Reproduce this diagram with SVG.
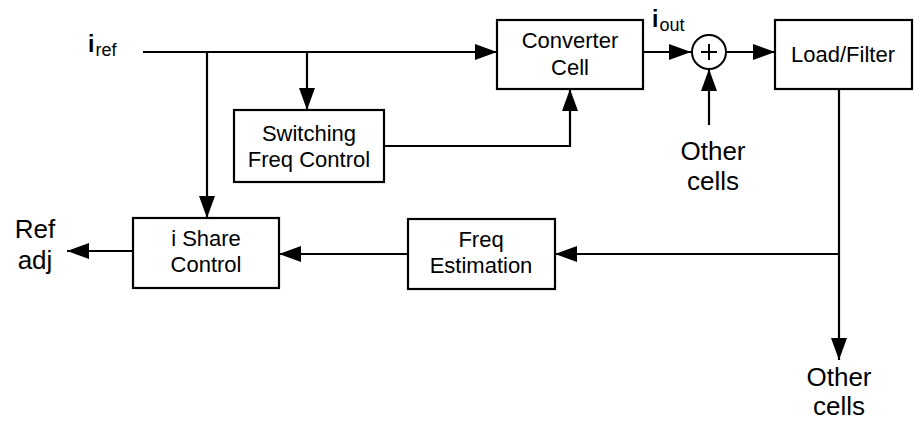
<svg xmlns="http://www.w3.org/2000/svg" width="914" height="421" viewBox="0 0 914 421">
  <style>
    .box { fill: #fff; stroke: #000; stroke-width: 2.2; }
    .wire { fill: none; stroke: #000; stroke-width: 2.2; marker-end: url(#arrow); }
    .lbl { font-family: "Liberation Sans", Arial, sans-serif; font-size: 22px; fill: #000; text-anchor: middle; }
    .big { font-family: "Liberation Sans", Arial, sans-serif; font-size: 26px; fill: #000; text-anchor: middle; }
    .sym { font-family: "Liberation Sans", Arial, sans-serif; fill: #000; }
  </style>
  <defs>
    <marker id="arrow" markerUnits="userSpaceOnUse" markerWidth="24" markerHeight="18" viewBox="0 0 24 18" refX="22" refY="9" orient="auto">
      <path d="M0,1 L22,9 L0,17 Z" fill="#000"/>
    </marker>
  </defs>

  <rect width="914" height="421" fill="#fff"/>

  <!-- signal wires -->
  <g id="connectors">
    <path class="wire" d="M143,52 H497"/>
    <path class="wire" d="M207,52 V218"/>
    <path class="wire" d="M307,52 V110"/>
    <path class="wire" d="M384,146 H570 V89"/>
    <path class="wire" d="M643,52 H691"/>
    <path class="wire" d="M727,52 H775"/>
    <path class="wire" d="M709,125 V69"/>
    <path class="wire" d="M839,89 V360"/>
    <path class="wire" d="M839,254 H555"/>
    <path class="wire" d="M408,254 H279"/>
    <path class="wire" d="M133,251 H67"/>
  </g>

  <g id="converter-cell">
    <rect class="box" x="497" y="20" width="146" height="69"/>
    <text class="lbl" x="570" y="48">Converter</text>
    <text class="lbl" x="570" y="75">Cell</text>
  </g>

  <g id="switching-freq-control">
    <rect class="box" x="234" y="110" width="150" height="72"/>
    <text class="lbl" x="309" y="141">Switching</text>
    <text class="lbl" x="309" y="167">Freq Control</text>
  </g>

  <g id="summing-junction">
    <circle cx="709" cy="52" r="17" fill="#fff" stroke="#000" stroke-width="2"/>
    <path d="M709,44 V60 M701,52 H717" stroke="#000" stroke-width="2"/>
  </g>

  <g id="load-filter">
    <rect class="box" x="775" y="20" width="137" height="69"/>
    <text class="lbl" x="843" y="62">Load/Filter</text>
  </g>

  <g id="freq-estimation">
    <rect class="box" x="408" y="219" width="147" height="70"/>
    <text class="lbl" x="481" y="247">Freq</text>
    <text class="lbl" x="481" y="273">Estimation</text>
  </g>

  <g id="i-share-control">
    <rect class="box" x="133" y="218" width="146" height="70"/>
    <text class="lbl" x="206" y="246">i Share</text>
    <text class="lbl" x="206" y="272">Control</text>
  </g>

  <!-- terminal labels -->
  <g id="labels">
    <text class="sym" x="88" y="52"><tspan font-size="23" font-weight="bold">i</tspan><tspan font-size="18" dx="1" dy="4">ref</tspan></text>
    <text class="sym" x="652" y="27"><tspan font-size="23" font-weight="bold">i</tspan><tspan font-size="18" dx="1" dy="4">out</tspan></text>
    <text class="big" x="713" y="160">Other</text>
    <text class="big" x="713" y="190">cells</text>
    <text class="big" x="839" y="386">Other</text>
    <text class="big" x="839" y="415">cells</text>
    <text class="big" x="35" y="238">Ref</text>
    <text class="big" x="35" y="269">adj</text>
  </g>
</svg>
